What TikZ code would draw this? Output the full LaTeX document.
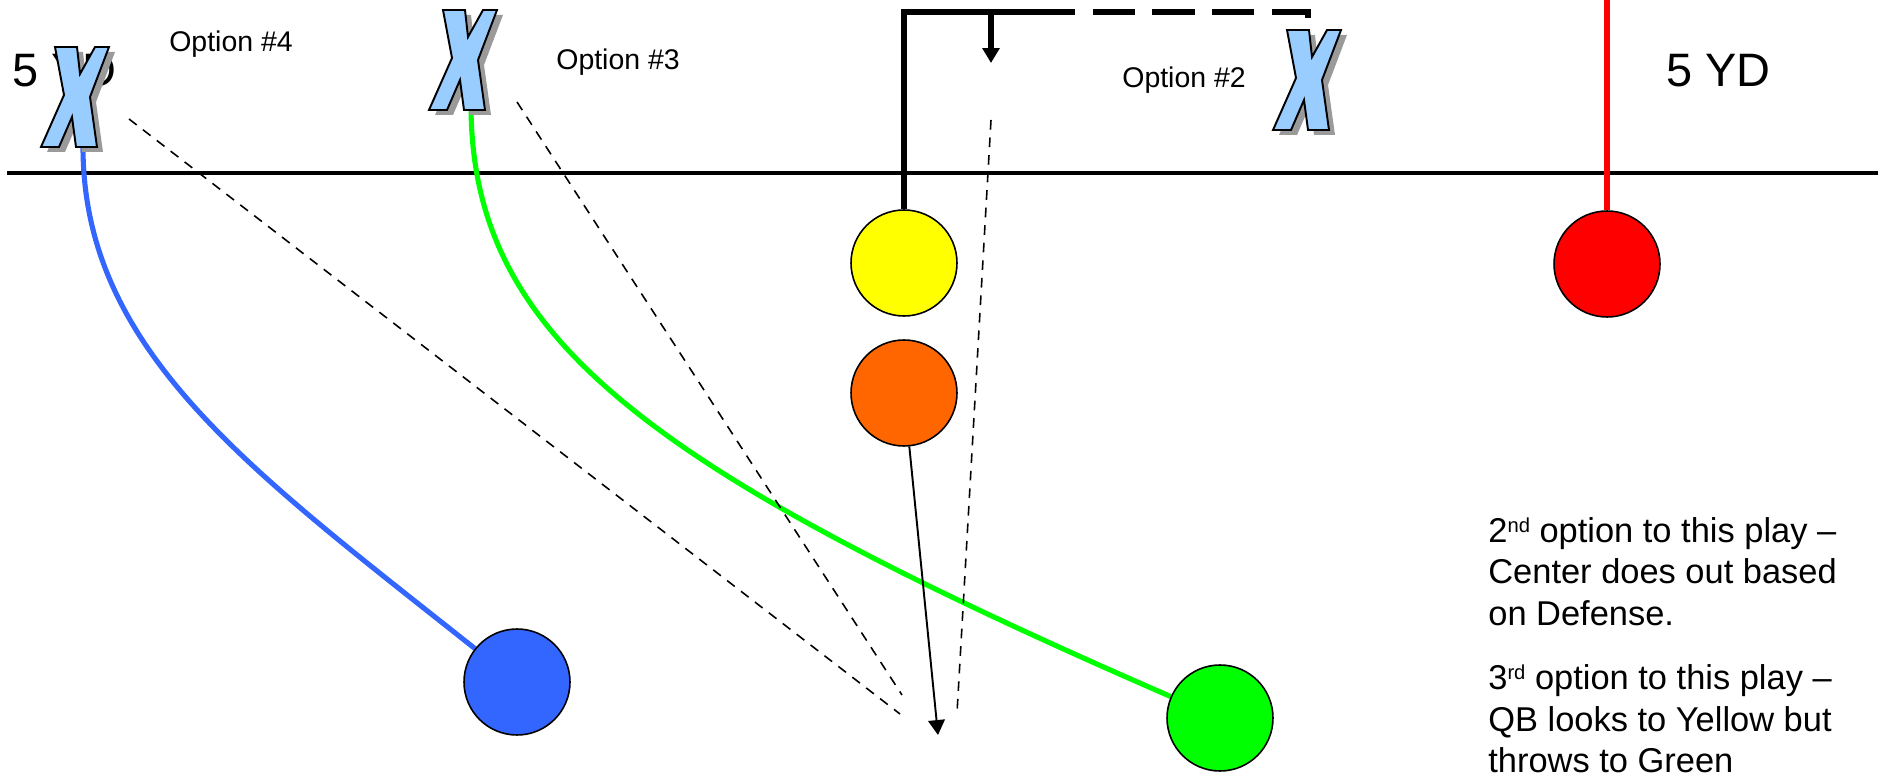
\documentclass[tikz,border=0pt]{standalone}
\usepackage{fontspec}
\setmainfont{Liberation Sans}
\usetikzlibrary{arrows.meta, backgrounds}
\definecolor{plyellow}{HTML}{FFFF00}
\definecolor{plorange}{HTML}{FF6600}
\definecolor{plred}{HTML}{FF0000}
\definecolor{plblue}{HTML}{3366FF}
\definecolor{plgreen}{HTML}{00FF00}
\definecolor{xblue}{HTML}{99CCFF}
\definecolor{xshadow}{HTML}{9A9A9A}
\tikzset{
  player/.style={circle, draw=black, line width=0.9pt, minimum size=2.12cm, inner sep=0pt},
  route/.style={line width=2.9pt},
  read/.style={line width=0.9pt, dash pattern=on 5.5pt off 4.5pt},
  los/.style={line width=2.1pt},
  tip/.style={-{Triangle[length=8.5pt, width=9.5pt]}},
  lbl/.style={font=\fontsize{16.2}{19}\selectfont, anchor=base west, inner sep=0pt},
  yard/.style={font=\fontsize{26.7}{32}\selectfont, anchor=base west, inner sep=0pt},
  note/.style={font=\fontsize{19.6}{23.6}\selectfont, anchor=north west, align=left, inner sep=0pt},
  defX/.style={fill=xblue, draw=black, line width=1.1pt},
  defXshade/.style={fill=xshadow},
}
\newcommand{\sups}[1]{\raisebox{5.6pt}{\fontsize{11.5}{12}\selectfont #1}}
\newcommand{\xoutline}{(-20,-50) -- (2,-50) -- (5,-23) -- (20,-50) -- (34,-50) -- (15,0)
  -- (22,50) -- (1,50) -- (-3,20) -- (-16,50) -- (-34,50) -- (-11,-2) -- cycle}
% #1 name, #2 centre
\newcommand{\defender}[2]{%
  \begin{scope}[shift={#2}]
    \fill[defXshade, shift={(6,5)}] \xoutline;
    \filldraw[defX] \xoutline;
    \coordinate (#1) at (0,0);
    \coordinate (#1-foot) at (8,48);
    \coordinate (#1-top) at (1,-48);
  \end{scope}}

\begin{document}
\begin{tikzpicture}[x=0.02cm, y=-0.02cm]
  \useasboundingbox (0,0) rectangle (1883,773);
  % texts
  \node (yd-l) [yard] at (12,87) {5 YD};
  \node (yd-r) [yard] at (1666,87) {5 YD};
  \node (opt4) [lbl] at (169,52) {Option \#4};
  \node (opt3) [lbl] at (556,70) {Option \#3};
  \node (opt2) [lbl] at (1122,88) {Option \#2};
  \node (note) [note] at (1488,517) {2\sups{nd} option to this play –\\Center does out based\\on Defense.\\[13pt]3\sups{rd} option to this play –\\QB looks to Yellow but\\throws to Green};
  % defense
  \defender{x4}{(75,97)}
  \defender{x3}{(463,60)}
  \defender{x2}{(1307,80)}
  % offense
  \node (yel) [player, fill=plyellow] at (904,263) {};
  \node (org) [player, fill=plorange] at (904,393) {};
  \node (red) [player, fill=plred] at (1607,264) {};
  \node (blu) [player, fill=plblue] at (517,682) {};
  \node (grn) [player, fill=plgreen] at (1220,718) {};
  \coordinate (los-l) at (7,173);
  \coordinate (los-r) at (1878,173);
  \coordinate (red-end) at (1607,-2);
  \coordinate (y-corner) at (904,12);
  \coordinate (y-split) at (1033,12);
  \coordinate (y-hook) at (1308,12);
  \coordinate (look) at (991,12);
  \coordinate (look-end) at (991,63);
  \coordinate (qb-drop) at (938,735);
  \coordinate (r4) at (129,119);  \coordinate (r4-end) at (900,714);
  \coordinate (r3) at (517,102);  \coordinate (r3-end) at (902,695);
  \coordinate (r2) at (991,120);  \coordinate (r2-end) at (957,713);
  \begin{scope}[on background layer]
    \draw[los] (los-l) -- (los-r);
    \draw[route, plred] (red) -- (red-end);
    \draw[route, plblue] (blu) .. controls (250,470) and (82,350) .. (x4-foot);
    \draw[route, plgreen] (grn) .. controls (650,470) and (473,340) .. (x3-foot);
    \draw[route] (yel) -- (y-corner) -- (y-split);
    \draw[route, dash pattern=on 24pt off 10pt] (y-split) -- (y-hook) -- (x2-top);
    \draw[route, tip] (look) -- (look-end);
    \draw[line width=1.1pt, tip] (org) -- (qb-drop);
    \draw[read] (r4) -- (r4-end);
    \draw[read] (r3) -- (r3-end);
    \draw[read] (r2) -- (r2-end);
  \end{scope}
\end{tikzpicture}
\end{document}
